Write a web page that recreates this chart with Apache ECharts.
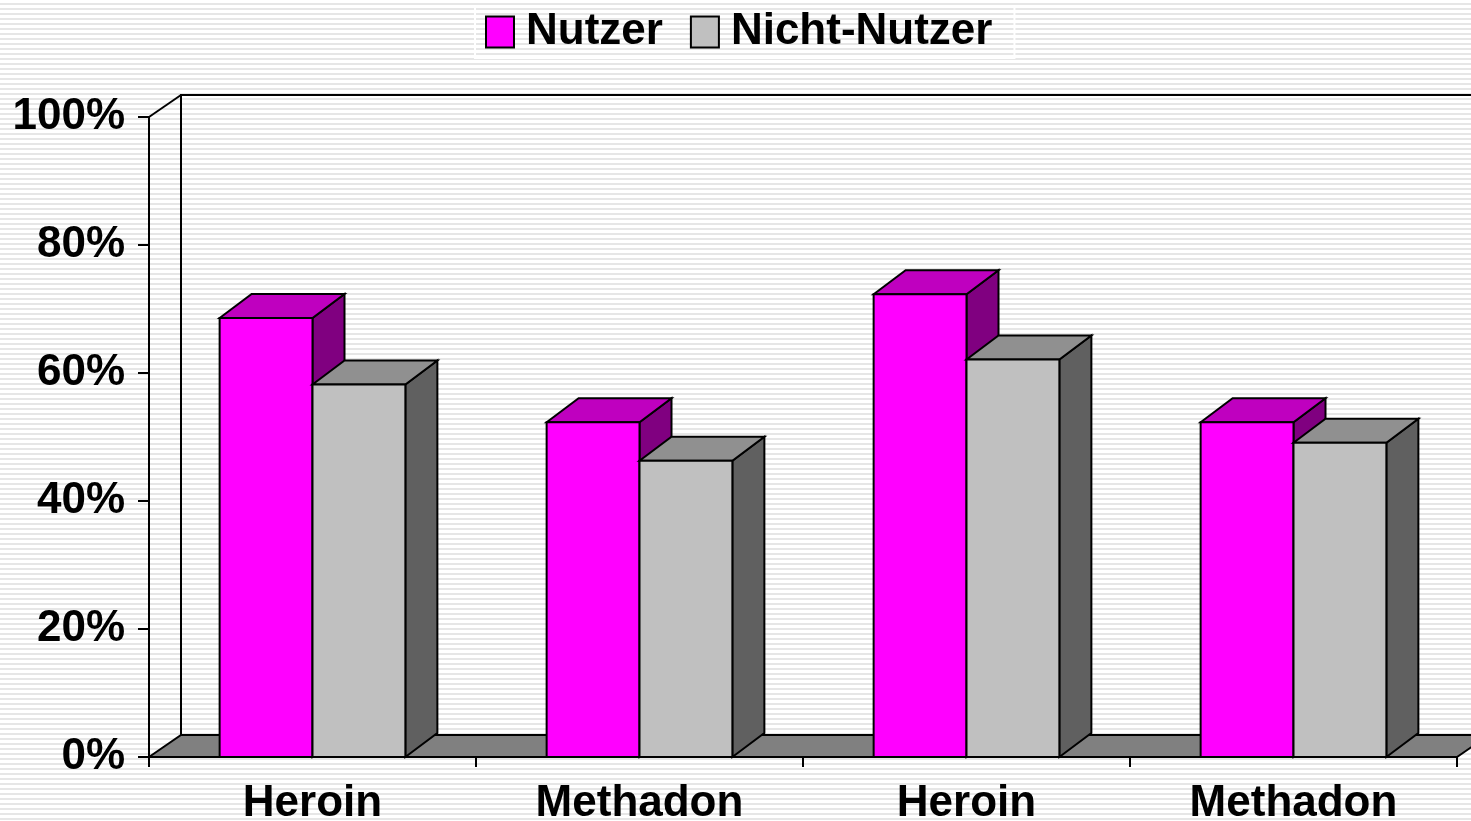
<!DOCTYPE html>
<html><head><meta charset="utf-8">
<script src="https://cdn.jsdelivr.net/npm/echarts@6/dist/echarts.min.js"></script>
<style>
html,body{margin:0;padding:0;width:1471px;height:821px;overflow:hidden;
background: repeating-linear-gradient(to bottom, #ffffff 0px, #ffffff 3px, #e6e6e6 3px, #e6e6e6 5px);}
#chart{width:1471px;height:821px;}
</style></head><body><div id="chart"></div>
<script>
const categories = ['Heroin', 'Methadon', 'Heroin', 'Methadon'];
const seriesNames = ['Nutzer', 'Nicht-Nutzer'];
const nutzer = [68.6, 52.3, 72.3, 52.3];
const nichtNutzer = [58.2, 46.3, 62.1, 49.1];
const yTicks = [0, 20, 40, 60, 80, 100];

const WALL_DX = 32, WALL_DY = -22;
const BAR_DX = 32, BAR_DY = -24;
const BAR_FRAC = 0.284;
const palette = [
  {front: '#ff00ff', top: '#bf00bf', side: '#800080'},
  {front: '#c0c0c0', top: '#909090', side: '#606060'}
];
const FONT = "'Liberation Sans', Arial, sans-serif";

function st(fill) { return {fill: fill, stroke: '#000', lineWidth: 2, lineJoin: 'miter'}; }

function barRender(which) {
  return function (params, api) {
    const i = api.value(0), v = api.value(1);
    const base = api.coord([i, 0]);
    const top = api.coord([i, v]);
    const bw = api.size([1, 0])[0] * BAR_FRAC;
    const x0 = which === 0 ? base[0] - bw : base[0];
    const x1 = x0 + bw;
    const y0 = base[1], y1 = top[1];
    const c = palette[which];
    return {type: 'group', children: [
      {type: 'polygon', shape: {points: [[x1, y0], [x1 + BAR_DX, y0 + BAR_DY], [x1 + BAR_DX, y1 + BAR_DY], [x1, y1]]}, style: st(c.side)},
      {type: 'polygon', shape: {points: [[x0, y1], [x0 + BAR_DX, y1 + BAR_DY], [x1 + BAR_DX, y1 + BAR_DY], [x1, y1]]}, style: st(c.top)},
      {type: 'rect', shape: {x: x0, y: y1, width: bw, height: y0 - y1}, style: st(c.front)}
    ]};
  };
}

function frameRender(params, api) {
  const cs = params.coordSys;
  const x = cs.x, y = cs.y, w = cs.width, h = cs.height;
  const line = {stroke: '#000', lineWidth: 2, fill: null};
  return {type: 'group', children: [
    {type: 'rect', shape: {x: x + WALL_DX, y: y + WALL_DY, width: w, height: h}, style: {fill: null, stroke: '#000', lineWidth: 2}},
    {type: 'line', shape: {x1: x, y1: y, x2: x + WALL_DX, y2: y + WALL_DY}, style: line},
    {type: 'polygon', shape: {points: [[x, y + h], [x + WALL_DX, y + h + WALL_DY], [x + w + WALL_DX, y + h + WALL_DY], [x + w, y + h]]}, style: st('#808080')}
  ]};
}

const chart = echarts.init(document.getElementById('chart'), null, {renderer: 'canvas'});
chart.setOption({
  animation: false,
  backgroundColor: 'transparent',
  textStyle: {fontFamily: FONT},
  legend: {
    data: seriesNames,
    left: 475, top: 6,
    padding: [4, 22, 4, 10],
    borderColor: '#ffffff', borderWidth: 2,
    icon: 'rect', itemWidth: 28, itemHeight: 31, itemGap: 27,
    itemStyle: {borderColor: '#000', borderWidth: 2},
    textStyle: {fontSize: 44, fontWeight: 'bold', color: '#000', fontFamily: FONT, padding: [0, 0, 0, 7]},
    selectedMode: false
  },
  grid: {left: 149, right: 14, top: 117, bottom: 64, containLabel: false, outerBoundsMode: 'none'},
  xAxis: {
    type: 'category', data: categories, boundaryGap: true,
    axisLine: {show: true, lineStyle: {color: '#000', width: 2}},
    axisTick: {show: true, length: 10, lineStyle: {color: '#000', width: 2}, alignWithLabel: false},
    axisLabel: {fontSize: 44, fontWeight: 'bold', color: '#000', fontFamily: FONT, margin: 25, interval: 0},
    splitLine: {show: false}
  },
  yAxis: {
    type: 'value', min: yTicks[0], max: yTicks[yTicks.length - 1], interval: yTicks[1] - yTicks[0],
    axisLine: {show: true, lineStyle: {color: '#000', width: 2}},
    axisTick: {show: true, length: 11, lineStyle: {color: '#000', width: 2}},
    axisLabel: {fontSize: 44, fontWeight: 'bold', color: '#000', fontFamily: FONT, margin: 24, formatter: '{value}%'},
    splitLine: {show: false}
  },
  series: [
    {type: 'custom', name: 'frame', z: 1, clip: false, silent: true, renderItem: frameRender, data: [[0, 0]]},
    {type: 'custom', name: seriesNames[0], z: 2, clip: false, renderItem: barRender(0),
      itemStyle: {color: palette[0].front}, data: nutzer.map((v, i) => [i, v])},
    {type: 'custom', name: seriesNames[1], z: 3, clip: false, renderItem: barRender(1),
      itemStyle: {color: palette[1].front}, data: nichtNutzer.map((v, i) => [i, v])}
  ]
});
</script></body></html>
